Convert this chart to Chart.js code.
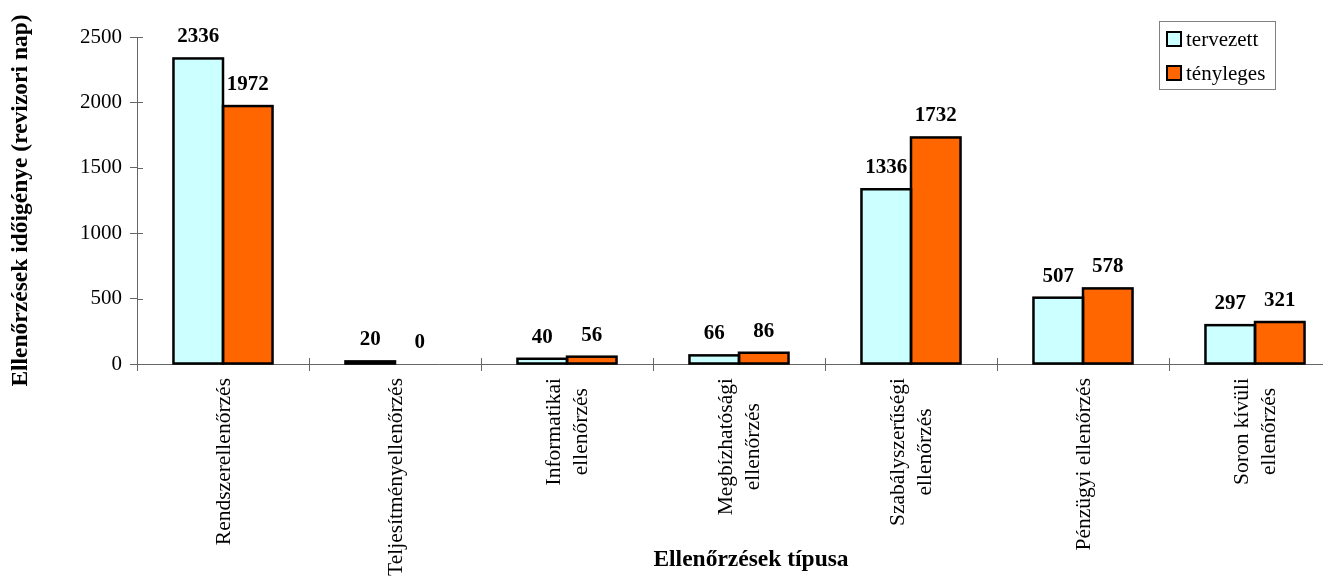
<!DOCTYPE html>
<html>
<head>
<meta charset="utf-8">
<script src="https://cdn.jsdelivr.net/npm/chart.js@4/dist/chart.umd.min.js"></script>
<style>
html, body { margin: 0; padding: 0; overflow: hidden; background: #fff; }
#wrap { width: 1341px; height: 581px; position: relative; }
</style>
</head>
<body>
<div id="wrap"><canvas id="c"></canvas></div>
<script>
const categories = [
  "Rendszerellenőrzés",
  "Teljesítményellenőrzés",
  ["Informatikai", "ellenőrzés"],
  ["Megbízhatósági", "ellenőrzés"],
  ["Szabályszerűségi", "ellenőrzés"],
  "Pénzügyi ellenőrzés",
  ["Soron kívüli", "ellenőrzés"]
];
const tervezett = [2336, 20, 40, 66, 1336, 507, 297];
const tenyleges = [1972, 0, 56, 86, 1732, 578, 321];
const seriesNames = ["tervezett", "tényleges"];
const yTicks = [0, 500, 1000, 1500, 2000, 2500];
const yTitle = "Ellenőrzések időigénye (revizori nap)";
const xTitle = "Ellenőrzések típusa";

const FONT = "'Liberation Serif', 'Times New Roman', serif";
const AXIS = '#666666';

const extras = {
  id: 'extras',
  afterDatasetsDraw(chart) {
    const ctx = chart.ctx;
    ctx.save();
    // Excel-style outlines centred on the bar edges
    ctx.strokeStyle = '#000';
    ctx.lineWidth = 2.5;
    ctx.lineJoin = 'miter';
    chart.data.datasets.forEach((ds, di) => {
      const meta = chart.getDatasetMeta(di);
      meta.data.forEach((el, i) => {
        if (ds.data[i] === 0) return;
        const p = el.getProps(['x', 'y', 'base', 'width'], true);
        const l = p.x - p.width / 2, r = p.x + p.width / 2;
        ctx.strokeRect(l, p.y, r - l, p.base - p.y);
      });
    });
    ctx.font = "bold 21px " + FONT;
    ctx.fillStyle = '#000';
    ctx.textAlign = 'center';
    ctx.textBaseline = 'alphabetic';
    chart.data.datasets.forEach((ds, di) => {
      const meta = chart.getDatasetMeta(di);
      meta.data.forEach((el, i) => {
        ctx.fillText(String(ds.data[i]), el.x, el.y - 16);
      });
    });
    ctx.restore();
  },
  afterDraw(chart) {
    const ctx = chart.ctx;
    const ca = chart.chartArea;
    const ys = chart.scales.y, xs = chart.scales.x;
    ctx.save();
    ctx.strokeStyle = AXIS;
    ctx.lineWidth = 1;
    yTicks.forEach(v => {
      const py = Math.round(ys.getPixelForValue(v)) + 0.5;
      ctx.beginPath(); ctx.moveTo(ca.left, py); ctx.lineTo(ca.left + 6, py); ctx.stroke();
    });
    const n = categories.length;
    const w = (ca.right - ca.left) / n;
    for (let i = 1; i < n; i++) {
      const px = Math.round(ca.left + i * w) + 0.5;
      ctx.beginPath(); ctx.moveTo(px, ca.bottom); ctx.lineTo(px, ca.bottom - 6); ctx.stroke();
    }
    // category labels, rotated, lines centred within a top-aligned block
    ctx.font = "21.5px " + FONT;
    ctx.fillStyle = '#000';
    ctx.textAlign = 'center';
    ctx.textBaseline = 'middle';
    const lh = 27;
    categories.forEach((c, i) => {
      const lines = Array.isArray(c) ? c : [c];
      const W = Math.max(...lines.map(l => ctx.measureText(l).width));
      const x = xs.getPixelForValue(i);
      const top = ca.bottom + 14;
      ctx.save();
      ctx.translate(x, top + W / 2);
      ctx.rotate(-Math.PI / 2);
      lines.forEach((l, k) => {
        ctx.fillText(l, 0, (k - (lines.length - 1) / 2) * lh + 1);
      });
      ctx.restore();
    });
    // x axis title
    ctx.font = "bold 23.5px " + FONT;
    ctx.textAlign = 'center';
    ctx.textBaseline = 'middle';
    ctx.fillText(xTitle, 751, 560);
    // legend
    const lx = 1159, ly = 21, lw = 116, lh2 = 68;
    ctx.strokeStyle = '#808080';
    ctx.lineWidth = 1;
    ctx.strokeRect(lx + 0.5, ly + 0.5, lw, lh2);
    ctx.font = "21px " + FONT;
    ctx.textAlign = 'left';
    chart.data.datasets.forEach((ds, di) => {
      const cy = ly + 18 + di * 34;
      ctx.fillStyle = ds.backgroundColor;
      ctx.fillRect(lx + 8, cy - 7, 14, 14);
      ctx.strokeStyle = '#000';
      ctx.lineWidth = 2;
      ctx.strokeRect(lx + 8, cy - 7, 14, 14);
      ctx.fillStyle = '#000';
      ctx.fillText(ds.label, lx + 27, cy + 1);
    });
    ctx.restore();
  }
};

new Chart(document.getElementById('c'), {
  type: 'bar',
  data: {
    labels: categories,
    datasets: [
      { label: seriesNames[0], data: tervezett, backgroundColor: '#CCFFFF', borderWidth: 0 },
      { label: seriesNames[1], data: tenyleges, backgroundColor: '#FF6600', borderWidth: 0 }
    ]
  },
  options: {
    responsive: true,
    maintainAspectRatio: false,
    animation: false,
    layout: { padding: { top: 37, left: 0, right: 0, bottom: 0 } },
    datasets: { bar: { categoryPercentage: 0.576, barPercentage: 1.0 } },
    plugins: { legend: { display: false }, tooltip: { enabled: false } },
    scales: {
      x: {
        afterFit: s => { s.height = 217; },
        border: { display: true, color: AXIS, width: 1 },
        grid: { display: true, drawOnChartArea: false, drawTicks: true, tickLength: 7, color: AXIS, offset: true },
        ticks: { display: false }
      },
      y: {
        min: 0, max: 2500,
        afterFit: s => { s.width = 137; },
        afterBuildTicks: s => { s.ticks = yTicks.map(v => ({ value: v })); },
        border: { display: true, color: AXIS, width: 1 },
        grid: { display: true, drawOnChartArea: false, drawTicks: true, tickLength: 7, color: AXIS },
        ticks: { color: '#000', font: { family: FONT, size: 21 }, padding: 8, callback: v => String(v) },
        title: { display: true, text: yTitle, color: '#000', font: { family: FONT, size: 23.5, weight: 'bold' }, padding: { top: 7, bottom: 4 } }
      }
    }
  },
  plugins: [extras]
});
</script>
</body>
</html>
